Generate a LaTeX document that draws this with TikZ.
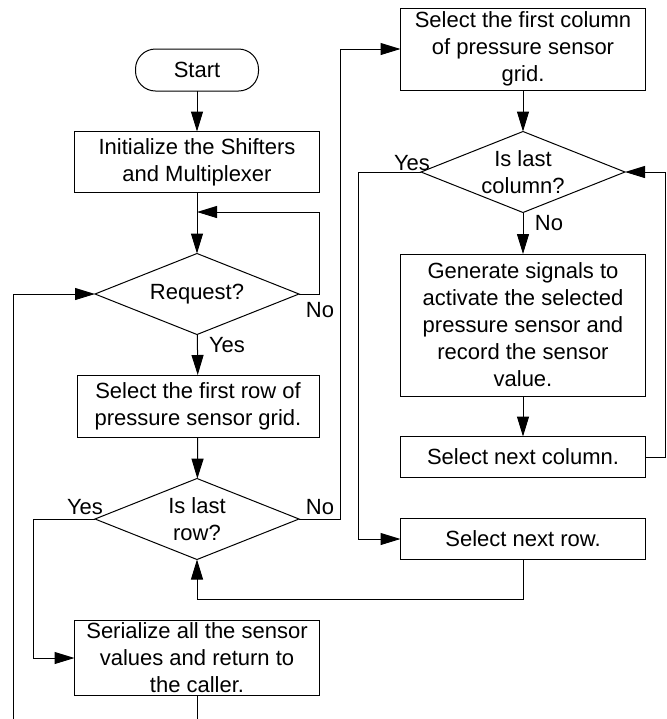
\documentclass[tikz,border=0pt]{standalone}
\usepackage{fontspec}
\setmainfont{Liberation Sans}
\usepackage{tikz}
\usetikzlibrary{arrows.meta,shapes.geometric}

\begin{document}
\begin{tikzpicture}[x=0.75pt,y=-0.75pt,>={Triangle[length=15pt,width=9pt]},line width=0.75pt,
  every node/.style={font=\fontsize{16.5}{20.25}\selectfont,align=center,outer sep=0pt},
  box/.style={draw,rectangle,minimum width=245*0.75pt,inner sep=2pt},
  term/.style={draw,rectangle,rounded corners=15pt,minimum width=123*0.75pt,minimum height=42*0.75pt},
  decision/.style={draw,diamond,aspect=2.5,inner sep=0pt,minimum width=204*0.75pt,minimum height=81*0.75pt},
  lbl/.style={inner sep=0pt}]

\useasboundingbox (0,0) rectangle (667,719);

% --- left column ---
\node[term] (start) at (197,70) {Start};
\node[box,minimum height=61*0.75pt] (init) at (197,162) {Initialize the Shifters\\and Multiplexer};
\node[decision] (req) at (197,294) {Request?};
\node[box,minimum width=242*0.75pt,minimum height=62*0.75pt] (row1) at (198,406) {Select the first row of\\pressure sensor grid.};
\node[decision] (lastrow) at (197,519) {Is last\\row?};
\node[box,minimum height=75*0.75pt] (serial) at (197,658) {Serialize all the sensor\\values and return to\\the caller.};

% --- right column ---
\node[box,minimum height=82*0.75pt] (col1) at (523,49) {Select the first column\\of pressure sensor\\grid.};
\node[decision] (lastcol) at (523,172) {Is last\\column?};
\node[box,minimum height=142*0.75pt] (gen) at (523,325) {Generate signals to\\activate the selected\\pressure sensor and\\record the sensor\\value.};
\node[box,minimum height=41*0.75pt] (nextcol) at (523,457) {Select next column.};
\node[box,minimum height=41*0.75pt] (nextrow) at (523,539) {Select next row.};

\coordinate (j1) at (197,212);
\coordinate (bl) at (13.5,719);
\coordinate (sb) at (197,719);

% --- connectors ---
\draw[->] (start) -- (init);
\draw[->] (init) -- (req);
\draw[->] (req.east) -- ++(20,0) |- (j1);
\draw[->] (req) -- (row1);
\draw[->] (row1) -- (lastrow);
\draw[->] (lastrow.west) -- ++(-62,0) |- (serial.west);
\draw[->] (lastrow.east) -- ++(41,0) |- (col1.west);
\draw[->] (col1) -- (lastcol);
\draw[->] (lastcol) -- (gen);
\draw[->] (gen) -- (nextcol);
\draw[->] (nextcol.east) -- ++(20,0) |- (lastcol.east);
\draw[->] (lastcol.west) -- ++(-63,0) |- (nextrow.west);
\draw[->] (nextrow.south) -- ++(0,40) -| (lastrow.south);
\draw[->] (bl) |- (req.west);
\draw (serial) -- (sb);

% --- labels ---
\node[lbl] at (320,310) {No};
\node[lbl] at (227,345) {Yes};
\node[lbl] at (85,507) {Yes};
\node[lbl] at (320,507) {No};
\node[lbl] at (412,163) {Yes};
\node[lbl] at (549,223) {No};

\end{tikzpicture}
\end{document}
